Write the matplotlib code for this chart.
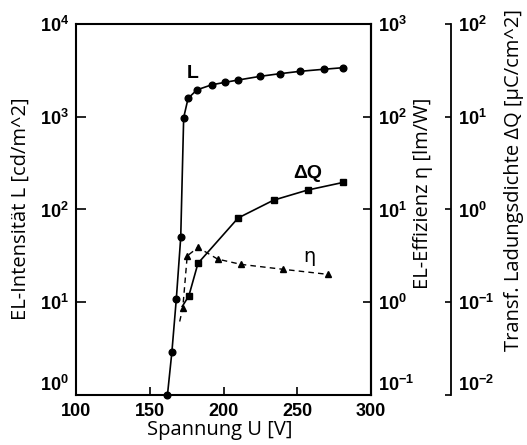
import math
import matplotlib
matplotlib.use("Agg")
import matplotlib.pyplot as plt
from matplotlib.ticker import FixedLocator, FuncFormatter

# ---------------- data ----------------
U_L = [162, 165, 168, 171, 173, 176, 182, 192, 201, 210, 225, 238, 252, 268, 281]
L_vals = [1.0, 2.9, 10.8, 50, 980, 1580, 1950, 2210, 2350, 2490, 2730, 2910, 3090, 3250, 3380]

U_Q = [176.5, 182.7, 209.9, 233.9, 257.0, 281.2]
Q_vals = [0.117, 0.263, 0.81, 1.26, 1.62, 1.96]
# start of the drawn dQ curve (below the first square, no marker)
U_Q_start = [172.0]
Q_start = [0.09]

U_eta = [172.4, 175.4, 182.7, 196.0, 211.9, 240.0, 270.6]
eta_vals = [0.87, 3.16, 3.9, 2.92, 2.56, 2.27, 2.0]
# start of the dashed eta curve (no marker)
U_eta_start = [170.3]
eta_start = [0.62]

x_ticks = [100, 150, 200, 250, 300]
L_exps = [0, 1, 2, 3, 4]
eta_exps = [-1, 0, 1, 2, 3]
Q_exps = [-2, -1, 0, 1, 2]

xlabel = "Spannung U [V]"
ylabel_L = "EL-Intensität L [cd/m^2]"
ylabel_eta = "EL-Effizienz η [lm/W]"
ylabel_Q = "Transf. Ladungsdichte ΔQ [μC/cm^2]"

# ---------------- style ----------------
plt.rcParams['mathtext.fontset'] = 'custom'
plt.rcParams['mathtext.rm'] = 'Liberation Sans'
plt.rcParams['mathtext.bf'] = 'Liberation Sans:bold'
plt.rcParams['axes.linewidth'] = 1.5

W, H = 527, 445
fig = plt.figure(figsize=(W / 100, H / 100), dpi=100)
x0, x1, ytop, ybot = 76, 371, 24, 395
ax = fig.add_axes([x0 / W, 1 - ybot / H, (x1 - x0) / W, (ybot - ytop) / H])

def sup_fmt(v, pos):
    e = int(round(math.log10(v)))
    return r'$\mathbf{10^{%d}}$' % e

LBL = 14.5
TICK = 13

# L axis
ax.set_xlim(100, 300)
ax.set_yscale('log')
ax.set_ylim(1, 1e4)
ax.xaxis.set_major_locator(FixedLocator(x_ticks))
ax.yaxis.set_major_locator(FixedLocator([10.0 ** e for e in L_exps]))
ax.yaxis.set_minor_locator(FixedLocator([]))
ax.yaxis.set_major_formatter(FuncFormatter(sup_fmt))
ax.tick_params(axis='y', which='major', direction='in', length=7, width=1.2,
               left=True, right=False, labelsize=TICK, pad=5)
ax.tick_params(axis='x', which='major', direction='in', length=6, width=1.2,
               top=False, labelsize=TICK, pad=5.5)
for lab in ax.get_xticklabels():
    lab.set_fontfamily('Liberation Sans')
    lab.set_fontweight('bold')
    lab.set_fontsize(TICK)

ax.plot(U_L, L_vals, '-', color='black', lw=1.2, marker='o', ms=4.8, zorder=5,
        clip_on=False)

# eta axis
ax2 = ax.twinx()
ax2.set_yscale('log')
ax2.set_ylim(0.1, 1e3)
ax2.yaxis.set_major_locator(FixedLocator([10.0 ** e for e in eta_exps]))
ax2.yaxis.set_minor_locator(FixedLocator([]))
ax2.yaxis.set_major_formatter(FuncFormatter(sup_fmt))
ax2.tick_params(axis='y', which='major', direction='in', length=6, width=1.2,
                labelsize=TICK, pad=5)
for s in ['top', 'bottom', 'left']:
    ax2.spines[s].set_visible(False)
ax2.plot(U_eta_start + U_eta, eta_start + eta_vals, color='black', lw=1.0,
         linestyle=(0, (4, 3)))
ax2.plot(U_eta, eta_vals, linestyle='none', color='black', marker='^', ms=4.8)

# dQ axis
ax3 = ax.twinx()
ax3.set_yscale('log')
ax3.set_ylim(0.01, 100)
ax3.spines['right'].set_position(('axes', (451 - x0) / (x1 - x0)))
for s in ['top', 'bottom', 'left']:
    ax3.spines[s].set_visible(False)
ax3.spines['right'].set_linewidth(1.3)
ax3.yaxis.set_major_locator(FixedLocator([10.0 ** e for e in Q_exps]))
ax3.yaxis.set_minor_locator(FixedLocator([]))
ax3.yaxis.set_major_formatter(FuncFormatter(sup_fmt))
ax3.tick_params(axis='y', which='major', direction='in', length=4, width=1.2,
                labelsize=TICK, pad=5)
ax3.plot(U_Q_start + U_Q, Q_start + Q_vals, '-', color='black', lw=1.2)
ax3.plot(U_Q, Q_vals, linestyle='none', color='black', marker='s', ms=4.5)

# raise the lowest tick label of each vertical axis so it clears the x labels
for a in (ax, ax2, ax3):
    t0 = a.yaxis.get_major_ticks()[0]
    t0.label1.set_verticalalignment('bottom')
    t0.label2.set_verticalalignment('bottom')

# curve labels
fig.text(193 / W, 1 - 74 / H, 'L', ha='center', va='center',
         fontsize=14, fontweight='bold', family='Liberation Sans')
fig.text(308 / W, 1 - 173 / H, 'ΔQ', ha='center', va='center',
         fontsize=14, fontweight='bold', family='Liberation Sans')
fig.text(309 / W, 1 - 257 / H, 'η', ha='center', va='center',
         fontsize=14, family='DejaVu Sans')

# axis labels
fig.text(220 / W, 1 - 430 / H, xlabel, ha='center', va='center',
         fontsize=LBL, family='Open Sans')
fig.text(21 / W, 1 - 209 / H, ylabel_L, ha='center', va='center',
         rotation=90, fontsize=LBL, family='Open Sans')
fig.text(423 / W, 1 - 193 / H, ylabel_eta, ha='center', va='center',
         rotation=90, fontsize=LBL, family=['Open Sans', 'DejaVu Sans'])
fig.text(514 / W, 1 - 180 / H, ylabel_Q, ha='center', va='center',
         rotation=90, fontsize=LBL, family=['Open Sans', 'DejaVu Sans'])

fig.savefig('out.png', dpi=100)
